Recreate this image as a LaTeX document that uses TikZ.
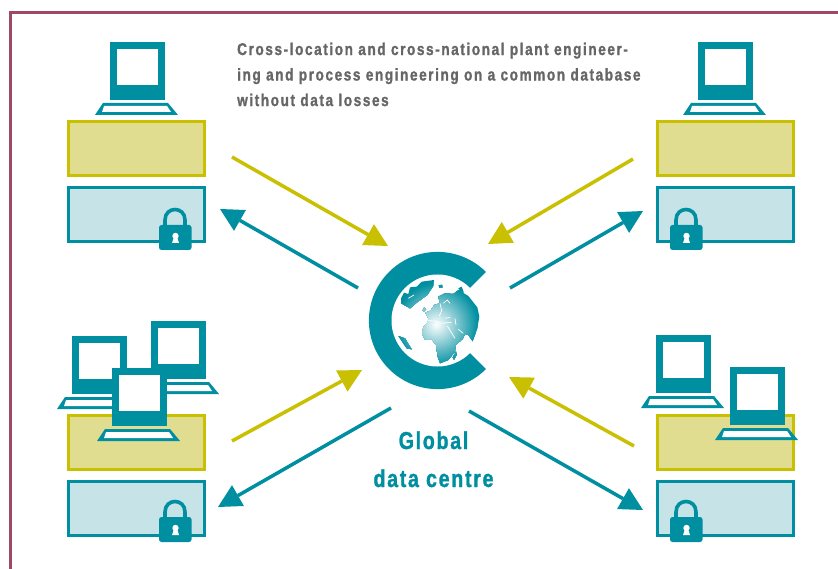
\documentclass[tikz,border=0pt]{standalone}
\usepackage{fontspec}
\setmainfont{Liberation Sans}
\usetikzlibrary{arrows.meta}
\definecolor{tealc}{RGB}{0,143,160}
\definecolor{yelline}{RGB}{200,192,0}
\definecolor{yelfill}{RGB}{224,220,144}
\definecolor{bluefill}{RGB}{198,228,232}
\definecolor{framec}{RGB}{160,72,104}
\definecolor{textgray}{RGB}{102,102,102}
\tikzset{
  yelbox/.style={draw=yelline,fill=yelfill,line width=3.4pt,minimum width=135.6pt,minimum height=53.6pt,inner sep=0pt,outer sep=0pt},
  blubox/.style={draw=tealc,fill=bluefill,line width=3.4pt,minimum width=135.6pt,minimum height=53.6pt,inner sep=0pt,outer sep=0pt},
  yelarrow/.style={draw=yelline,line width=3.5pt,-{Triangle[length=23pt,width=24pt,line width=0pt,fill=yelline]}},
  tealarrow/.style={draw=tealc,line width=3.5pt,-{Triangle[length=23pt,width=24pt,line width=0pt,fill=tealc]}},
  captionfont/.style={font=\fontsize{17}{25.5}\selectfont\bfseries\addfontfeatures{FakeStretch=0.8,LetterSpace=9.3,FakeBold=1.2}},
  labelfont/.style={font=\fontsize{24.5}{30}\selectfont\bfseries\addfontfeatures{FakeStretch=0.8,LetterSpace=7,FakeBold=1.2}},
  seaway/.style={draw=white,line width=0.7pt,line join=round},
}
\newcommand{\drawcomputer}[2]{%
  \begin{scope}[shift={(#1,#2)}]
    \fill[tealc] (0,0) rectangle (55,58);
    \fill[white] (7,7) rectangle (48,43);
    \fill[tealc] (-15,73) -- (-7,61) -- (58,61) -- (68,73) -- cycle;
    \fill[white] (-8,70) -- (-6,64) -- (57,64) -- (61,70) -- cycle;
  \end{scope}}
\newcommand{\drawlock}[2]{%
  \begin{scope}[shift={(#1,#2)}]
    \draw[tealc,line width=3.6pt] (6,3) -- (6,-5) .. controls (6,-19) and (26,-19) .. (26,-5) -- (26,3);
    \fill[tealc,rounded corners=2.5pt] (0,0) rectangle (32.5,25);
    \fill[white] (16.5,11) circle [radius=3.2pt];
    \fill[white] (15,12) -- (18,12) -- (20,18) -- (13,18) -- cycle;
  \end{scope}}
\begin{document}
\begin{tikzpicture}[x=1pt,y=-1pt]
\useasboundingbox (0,0) rectangle (838,569);
\fill[white] (0,0) rectangle (838,569);
% frame
\draw[framec,line width=2.8pt] (10.5,569) -- (10.5,12.5) -- (838,12.5);
% storage boxes
\node[yelbox] (ya) at (136.5,148.5) {};
\node[blubox] (ba) at (136.5,214.5) {};
\node[yelbox] (yb) at (725.5,148.5) {};
\node[blubox] (bb) at (725.5,214.5) {};
\node[yelbox] (yc) at (136.5,442.5) {};
\node[blubox] (bc) at (136.5,508.5) {};
\node[yelbox] (yd) at (725.5,442.5) {};
\node[blubox] (bd) at (725.5,508.5) {};
% computers
\drawcomputer{110}{42}
\drawcomputer{698}{42}
\drawcomputer{72}{336}
\drawcomputer{151}{321}
\drawcomputer{112}{368}
\drawcomputer{656}{335}
\drawcomputer{730}{367}
% locks
\drawlock{159}{225}
\drawlock{670}{225}
\drawlock{159}{517}
\drawlock{670}{517}
% C logo
\fill[tealc] (437.5,320.5) circle [radius=68.6pt];
\fill[white] (437.5,320.5) circle [radius=46pt];
\fill[white] (437.5,320.5) -- (537.5,220.5) -- (537.5,420.5) -- cycle;
% globe
\begin{scope}[x=0.3333pt,y=-0.3333pt,xshift=390pt,yshift=-270pt]
  \begin{scope}
    \clip (96,190) -- (100,172) -- (112,158) -- (116,148) -- (106,128) -- (122,122) -- (133,105) -- (150,100) -- (145,80) -- (165,70) -- (190,72) -- (205,60) -- (235,78) -- (262,112) -- (268,140) -- (262,175) -- (248,214) -- (235,195) -- (225,192) -- (218,207) -- (197,225) -- (195,245) -- (175,270) -- (150,280) -- (143,260) -- (138,225) -- (125,208) -- (105,210) -- cycle
      (33,85) -- (42,68) -- (55,72) -- (60,52) -- (80,50) -- (95,35) -- (132,30) -- (130,48) -- (112,75) -- (80,98) -- (60,115) -- (33,100) -- cycle
      (188,262) -- (198,245) -- (200,255) -- (192,270) -- cycle
      (25,198) -- (45,205) -- (65,238) -- (50,235) -- cycle
      (146,46) -- (156,44) -- (158,52) -- (148,54) -- cycle
      (205,55) -- (215,50) -- (222,68) -- (210,62) -- cycle
      (98,122) -- (103,112) -- (108,120) -- (102,126) -- cycle;
    \fill[tealc] (0,0) rectangle (285,300);
    \foreach \i in {0,...,24} {
      \pgfmathsetmacro{\rr}{125-5*\i}
      \pgfmathsetmacro{\mx}{min(100,4*\i*1.0+2)}
      \fill[white!\mx!tealc] (140,165) circle [radius=\rr];
    }
  \end{scope}
  \draw[seaway] (112,152) -- (135,153) -- (150,160) -- (185,157);
  \draw[seaway] (150,100) -- (155,122) -- (148,138);
  \draw[seaway] (165,145) -- (180,142);
  \draw[seaway] (195,145) -- (198,165);
  \draw[seaway] (172,168) -- (195,205);
  \draw[seaway] (205,178) -- (220,190);
  \draw[seaway] (160,100) -- (172,90) -- (180,100);
  \draw[seaway] (55,85) -- (72,75);
\end{scope}
% arrow end points
\coordinate (a1s) at (232,157); \coordinate (a1e) at (388,246);
\coordinate (a2s) at (633,159); \coordinate (a2e) at (488,244);
\coordinate (a3s) at (358,288); \coordinate (a3e) at (220,209);
\coordinate (a4s) at (510,288); \coordinate (a4e) at (643,211);
\coordinate (a5s) at (232,441); \coordinate (a5e) at (362,370);
\coordinate (a6s) at (391,408); \coordinate (a6e) at (218,507);
\coordinate (a7s) at (634,446); \coordinate (a7e) at (509,377);
\coordinate (a8s) at (469,411); \coordinate (a8e) at (643,510);
\draw[yelarrow] (a1s) -- (a1e);
\draw[yelarrow] (a2s) -- (a2e);
\draw[tealarrow] (a3s) -- (a3e);
\draw[tealarrow] (a4s) -- (a4e);
\draw[yelarrow] (a5s) -- (a5e);
\draw[tealarrow] (a6s) -- (a6e);
\draw[yelarrow] (a7s) -- (a7e);
\draw[tealarrow] (a8s) -- (a8e);
% texts
\node[anchor=north west,inner sep=0pt,align=left,text=textgray,captionfont] (caption) at (237,42.5)
  {Cross-location and cross-national plant engineer-\\ing and process engineering on a common database\\without data losses};
\node[anchor=base,inner sep=0pt,text=tealc,labelfont] (lab1) at (433.5,449) {Global};
\node[anchor=base,inner sep=0pt,text=tealc,labelfont] (lab2) at (433.5,487) {data centre};
\end{tikzpicture}
\end{document}
